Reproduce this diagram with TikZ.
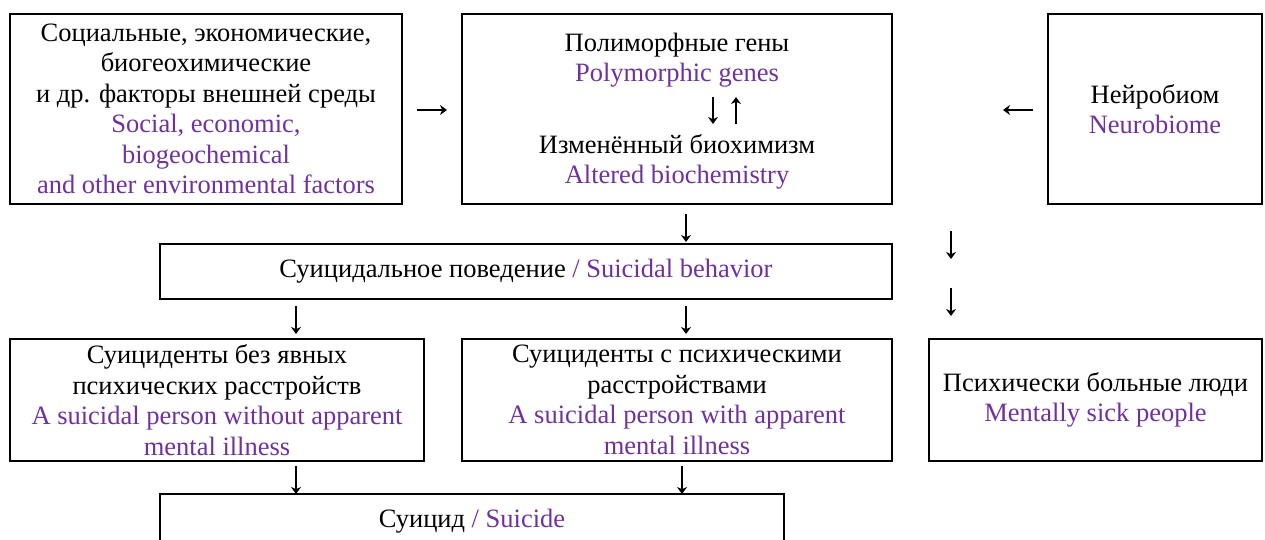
\documentclass[tikz,border=0pt]{standalone}
\usepackage{fontspec}
\setmainfont{Liberation Serif}
\usetikzlibrary{arrows.meta}
\definecolor{pur}{RGB}{112,48,160}
\newcommand\diagfont{\fontsize{26.5}{30.5}\selectfont}
\begin{document}
\begin{tikzpicture}[x=1pt,y=-1pt,
  box/.style={draw=black,line width=2pt,inner sep=0pt,align=center,font=\diagfont},
  txt/.style={inner sep=0pt,align=center,font=\diagfont},
  glypharrow/.style={line width=1.4pt,-{Stealth[length=7pt,width=10pt,inset=2.2pt]}}]
\path[use as bounding box] (0,0) rectangle (1265,540);
\clip (0,0) rectangle (1265,540);
% top row
\node[box,minimum width=392pt,minimum height=190pt] (env) at (206,109)
  {Социальные, экономические,\\биогеохимические\\и др. факторы внешней среды\\
   \textcolor{pur}{Social, economic,}\\\textcolor{pur}{biogeochemical}\\
   \textcolor{pur}{and other environmental factors}};
\node[box,minimum width=430pt,minimum height=190pt] (gen) at (677,109) {};
\node[txt] (genru) at (677,60) {Полиморфные гены\\\textcolor{pur}{Polymorphic genes}};
\node[txt] (bio) at (677,162) {Изменённый биохимизм\\\textcolor{pur}{Altered biochemistry}};
\node[box,minimum width=214pt,minimum height=190pt] (neuro) at (1155,109)
  {Нейробиом\\\textcolor{pur}{Neurobiome}};
% behaviour
\node[box,minimum width=732pt,minimum height=55pt] (beh) at (526,271.5)
  {Суицидальное поведение \textcolor{pur}{/ Suicidal behavior}};
% third row
\node[box,minimum width=414pt,minimum height=122pt] (wo) at (217,400)
  {Суициденты без явных\\психических расстройств\\
   \textcolor{pur}{A suicidal person without apparent}\\\textcolor{pur}{mental illness}};
\node[box,minimum width=430pt,minimum height=122pt] (wi) at (677,400)
  {Суициденты с психическими\\расстройствами\\
   \textcolor{pur}{A suicidal person with apparent}\\\textcolor{pur}{mental illness}};
\node[box,minimum width=333pt,minimum height=122pt] (sick) at (1095.5,400)
  {Психически больные люди\\\textcolor{pur}{Mentally sick people}};
% suicide
\node[box,minimum width=624pt,minimum height=54pt] (sui) at (472,521)
  {Суицид \textcolor{pur}{/ Suicide}};
% arrow end points
\coordinate (r1) at (417,110);  \coordinate (r2) at (447,110);
\coordinate (l1) at (1033,110); \coordinate (l2) at (1003,110);
\coordinate (d1) at (713,97);   \coordinate (d2) at (713,124);
\coordinate (u1) at (736,124);  \coordinate (u2) at (736,97);
\coordinate (g1) at (686,214);  \coordinate (g2) at (686,242);
\coordinate (n1) at (951,231);  \coordinate (n2) at (951,259);
\coordinate (n3) at (951,288);  \coordinate (n4) at (951,316);
\coordinate (b1) at (296,306);  \coordinate (b2) at (296,334);
\coordinate (b3) at (686,306);  \coordinate (b4) at (686,334);
\coordinate (s1) at (296,466);  \coordinate (s2) at (296,494);
\coordinate (s3) at (682,466);  \coordinate (s4) at (682,494);
\foreach \p/\q in {r1/r2,l1/l2,d1/d2,u1/u2,g1/g2,n1/n2,n3/n4,b1/b2,b3/b4,s1/s2,s3/s4}
  \draw[glypharrow] (\p) -- (\q);
\end{tikzpicture}
\end{document}
